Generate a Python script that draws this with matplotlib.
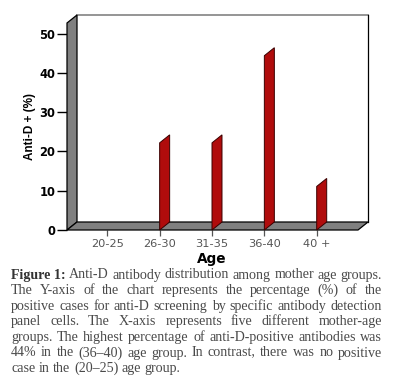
import matplotlib
matplotlib.use('Agg')
import matplotlib.pyplot as plt
from matplotlib.patches import Polygon
from matplotlib.lines import Line2D

# ---------------- data ----------------
categories = ['20-25', '26-30', '31-35', '36-40', '40 +']
values = [0.0, 22.2, 22.2, 44.4, 11.1]
y_ticks = [0, 10, 20, 30, 40, 50]
x_label = 'Age'
y_label = 'Anti-D + (%)'
caption_bold = 'Figure 1:'
caption_lines = [
    'Anti-D antibody distribution among mother age groups.',
    'The Y-axis of the chart represents the percentage (%) of the',
    'positive cases for anti-D screening by specific antibody detection',
    'panel cells. The X-axis represents five different mother-age',
    'groups. The highest percentage of anti-D-positive antibodies was',
    '44% in the (36\u201340) age group. In contrast, there was no positive',
    'case in the (20\u201325) age group.',
]

# ---------------- layout ----------------
W, H = 395, 383
fig = plt.figure(figsize=(W / 100, H / 100), dpi=100)
fig.patch.set_facecolor('white')

ax_l, ax_r, ax_t, ax_b = 67, 368, 15, 230
ax = fig.add_axes([ax_l / W, 1 - ax_b / H, (ax_r - ax_l) / W, (ax_b - ax_t) / H])
ax.set_facecolor('none')

cat_px0, cat_step = 107.3, 52.35
px_per_unit = 3.926
xmin = -(cat_px0 - ax_l) / cat_step
xmax = (ax_r - cat_px0) / cat_step
ymax = (ax_b - ax_t) / px_per_unit
ax.set_xlim(xmin, xmax)
ax.set_ylim(0, ymax)

# depth offset of the pseudo-3D frame (in data units)
dx = 10 / cat_step
dy = 8 / px_per_unit

gray = '#808080'
# left wall
ax.add_patch(Polygon([(xmin, 0), (xmin, ymax - dy), (xmin + dx, ymax), (xmin + dx, dy)],
                     closed=True, facecolor=gray, edgecolor='black', lw=0.9, clip_on=False, zorder=2))
# floor
ax.add_patch(Polygon([(xmin, 0), (xmax - dx, 0), (xmax, dy), (xmin + dx, dy)],
                     closed=True, facecolor=gray, edgecolor='black', lw=0.9, clip_on=False, zorder=2))
# back panel edges
ax.add_line(Line2D([xmin + dx, xmax], [ymax, ymax], color='#8c8c8c', lw=1.3, clip_on=False, zorder=1))
ax.add_line(Line2D([xmax, xmax], [ymax, dy], color='black', lw=0.9, clip_on=False, zorder=1))

# bars (thin 3D side faces)
for i, v in enumerate(values):
    if v <= 0:
        continue
    ax.add_patch(Polygon([(i, 0), (i, v), (i + dx, v + dy), (i + dx, dy)],
                         closed=True, facecolor='#B00C0C', edgecolor='#3a0000', lw=0.7,
                         clip_on=False, zorder=3))

for s in ax.spines.values():
    s.set_visible(False)

ax.set_yticks(y_ticks)
ax.set_yticklabels([str(t) for t in y_ticks], fontsize=8.3, fontweight='bold',
                   family='DejaVu Sans', color='black')
ax.tick_params(axis='y', length=7.5, width=1.0, direction='out', pad=1, color='black')

ax.set_xticks(range(len(categories)))
ax.set_xticklabels(categories, fontsize=8.2, family='DejaVu Sans', color='#555555')
ax.tick_params(axis='x', length=4.5, width=0.9, direction='out', pad=2, color='#555555')

fig.text(212 / W, 1 - 259 / H, x_label, ha='center', va='center', fontsize=9.8,
         fontweight='bold', family='DejaVu Sans', color='black')
fig.text(30 / W, 1 - 127 / H, y_label, ha='center', va='center', rotation=90,
         fontsize=8.5, fontweight='bold', family='Liberation Sans', color='black')

# ---------------- caption (justified) ----------------
renderer = fig.canvas.get_renderer()
cap_family = 'Liberation Serif'
body_col = '#4a4a4a'
bold_col = '#333333'
text_x0, text_x1 = 11, 382
base_line0, line_step = 278.5, 15.6
SPACE_EM = 0.25  # advance width of the space in Liberation Serif


def word_items(k):
    items = []
    if k == 0:
        items.append((caption_bold, 'bold', bold_col))
    for w in caption_lines[k].split(' '):
        items.append((w, 'normal', body_col))
    return items


def measure(s, fs, wt):
    t = fig.text(0, 0, s, fontsize=fs, family=cap_family, weight=wt)
    w = t.get_window_extent(renderer).width
    t.remove()
    return w


base_fs = 8.0
max_nat = 0
for k in range(len(caption_lines)):
    items = word_items(k)
    sp = SPACE_EM * base_fs * 100 / 72
    nat = sum(measure(w, base_fs, wt) for w, wt, c in items) + sp * (len(items) - 1)
    max_nat = max(max_nat, nat)
cap_fs = base_fs * (text_x1 - text_x0) / max_nat
space_w = SPACE_EM * cap_fs * 100 / 72

for k in range(len(caption_lines)):
    items = word_items(k)
    ws = [measure(w, cap_fs, wt) for w, wt, c in items]
    if k < len(caption_lines) - 1 and len(items) > 1:
        gap = ((text_x1 - text_x0) - sum(ws)) / (len(items) - 1)
    else:
        gap = space_w
    x = text_x0
    yb = base_line0 + line_step * k
    for (w, wt, c), wd in zip(items, ws):
        fig.text(x / W, 1 - yb / H, w, fontsize=cap_fs, family=cap_family, weight=wt,
                 color=c, ha='left', va='baseline')
        x += wd + gap

fig.savefig('out.png', dpi=100)
